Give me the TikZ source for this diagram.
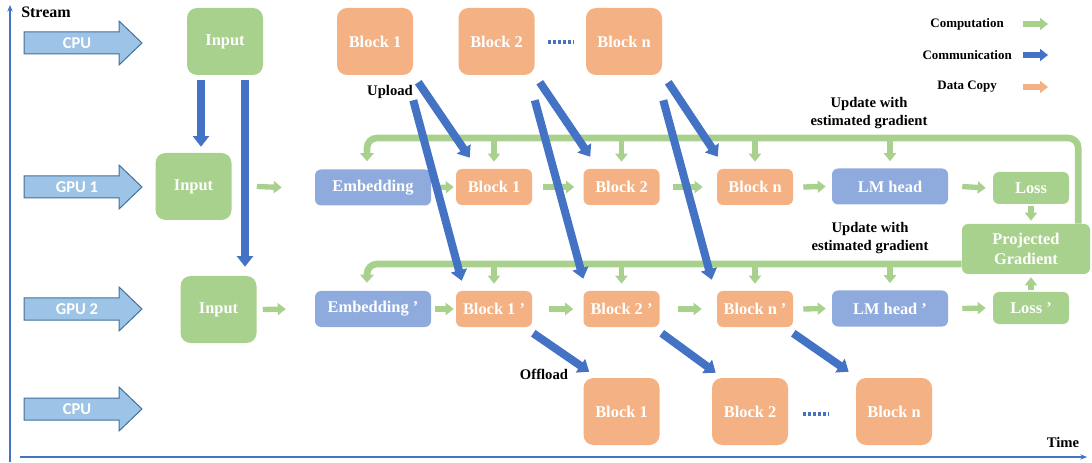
\documentclass[tikz,border=0pt]{standalone}
\usepackage{fontspec}
\setmainfont{Liberation Serif}
\newfontfamily\rowfont{Carlito}
\usetikzlibrary{arrows.meta}
\definecolor{cgreen}{HTML}{A9D18E}
\definecolor{cblue}{HTML}{4472C4}
\definecolor{corange}{HTML}{F4B183}
\definecolor{cmodel}{HTML}{8FAADC}
\definecolor{crow}{HTML}{9DC3E6}
\definecolor{crowline}{HTML}{41719C}
\begin{document}
\begin{tikzpicture}[x=0.75pt,y=-0.75pt,
  box/.style={rounded corners=4.5pt, inner sep=0pt, text=white, align=center,
    font=\fontsize{12.3}{15}\selectfont\bfseries},
  bigbox/.style={box, rounded corners=7.5pt, minimum width=57pt, minimum height=50.25pt},
  sbox/.style={box, minimum width=57pt, minimum height=27pt},
  wbox/.style={box, minimum width=87pt, minimum height=27pt, fill=cmodel},
  lossbox/.style={box, minimum width=57pt, minimum height=24pt, fill=cgreen},
  rowlbl/.style={text=white, inner sep=0pt, font=\rowfont\bfseries\fontsize{12.4}{14}\selectfont},
  lbl/.style={inner sep=0pt, font=\fontsize{11}{13.5}\selectfont\bfseries, align=center},
  leg/.style={inner sep=0pt, font=\fontsize{9.7}{12}\selectfont\bfseries},
  axis/.style={draw=cblue, line width=0.9pt, -{Stealth[length=5pt,width=4pt]}},
  comm/.style={draw=cblue, line width=6pt, -{Triangle[width=12pt,length=8pt]}},
  comp/.style={draw=cgreen, line width=4pt, -{Triangle[width=9pt,length=6pt]}},
  fline/.style={draw=cgreen, line width=5pt, rounded corners=7.5pt, -{Triangle[width=10pt,length=6pt]}},
  legcomm/.style={comp, draw=cblue},
  legcopy/.style={comp, draw=corange},
  dotline/.style={draw=cblue, line width=2.4pt, dash pattern=on 2.25pt off 1.5pt},
  rowarr/.pic={\draw[fill=crow, draw=crowline, line width=0.75pt]
    (0,-11) -- (95,-11) -- (95,-22) -- (118,0) -- (95,22) -- (95,11) -- (0,11) -- cycle;}
]
\useasboundingbox (0,0) rectangle (1092,463);

% axes
\coordinate (yaxb) at (10,462);
\coordinate (yaxt) at (10,5);
\coordinate (xaxl) at (20,457);
\coordinate (xaxr) at (1087,457);
\draw[axis] (yaxb) -- (yaxt);
\draw[axis] (xaxl) -- (xaxr);
\node[lbl, font=\fontsize{12}{14}\selectfont\bfseries] (stream) at (46,12) {Stream};
\node[lbl] (time) at (1063,442) {Time};

% row arrows
\pic at (24,43) {rowarr};
\pic at (24,187) {rowarr};
\pic at (24,309) {rowarr};
\pic at (24,409) {rowarr};
\node[rowlbl] (rcpu1) at (77,43) {CPU};
\node[rowlbl] (rgpu1) at (77,187) {GPU 1};
\node[rowlbl] (rgpu2) at (77,309) {GPU 2};
\node[rowlbl] (rcpu2) at (77,409) {CPU};

% top CPU row
\node[bigbox, fill=cgreen] (tin) at (225,41.5) {Input};
\node[bigbox, fill=corange] (tb1) at (375,41.5) {Block 1};
\node[bigbox, fill=corange] (tb2) at (496.5,41.5) {Block 2};
\node[bigbox, fill=corange] (tbn) at (624,41.5) {Block n};
\coordinate (tda) at (548,42);
\coordinate (tdb) at (574,42);
\draw[dotline] (tda) -- (tdb);

% GPU 1 row
\node[bigbox, fill=cgreen] (g1in) at (193.5,186.5) {Input};
\node[wbox] (emb) at (373,187.5) {Embedding};
\node[sbox, fill=corange] (b1) at (494,187) {Block 1};
\node[sbox, fill=corange] (b2) at (621.5,187) {Block 2};
\node[sbox, fill=corange] (bn) at (755,187) {Block n};
\node[wbox] (lm) at (890,186.5) {LM head};
\node[lossbox] (loss) at (1031,188) {Loss};
\node[box, fill=cgreen, minimum width=96pt, minimum height=37.5pt] (proj) at (1026,249) {Projected\\Gradient};

% GPU 2 row
\node[bigbox, fill=cgreen] (g2in) at (218.5,309.5) {Input};
\node[wbox] (embp) at (373,309) {Embedding '};
\node[sbox, fill=corange] (b1p) at (494,309) {Block 1 '};
\node[sbox, fill=corange] (b2p) at (621.5,309) {Block 2 '};
\node[sbox, fill=corange] (bnp) at (755,309) {Block n '};
\node[wbox] (lmp) at (890,308.5) {LM head '};
\node[lossbox] (lossp) at (1031,308) {Loss '};

% bottom CPU row
\node[bigbox, fill=corange] (ob1) at (621.5,411.5) {Block 1};
\node[bigbox, fill=corange] (ob2) at (750,411.5) {Block 2};
\node[bigbox, fill=corange] (obn) at (894,411.5) {Block n};
\coordinate (bda) at (803,414);
\coordinate (bdb) at (829,414);
\draw[dotline] (bda) -- (bdb);

% labels
\node[lbl] (upl) at (390,92) {Upload};
\node[lbl] (offl) at (544,374) {Offload};
\node[lbl] (upd1) at (869,113) {Update with\\estimated gradient};
\node[lbl] (upd2) at (870,238) {Update with\\estimated gradient};

% legend
\node[leg, anchor=east] (lcomp) at (1004,24) {Computation};
\node[leg, anchor=east] (lcomm) at (1012,55) {Communication};
\node[leg, anchor=east] (lcopy) at (997,87) {Data Copy};
\coordinate (la1) at (1023,24); \coordinate (la2) at (1048,24);
\coordinate (lb1) at (1023,55); \coordinate (lb2) at (1048,55);
\coordinate (lc1) at (1023,87); \coordinate (lc2) at (1048,87);
\draw[comp] (la1) -- (la2);
\draw[legcomm] (lb1) -- (lb2);
\draw[legcopy] (lc1) -- (lc2);

% computation arrows GPU 1
\draw[comp] ([shift={(25,0)}]g1in.east) -- ([shift={(-33,0)}]emb.west);
\draw[comp] ([shift={(4,0)}]emb.west -| emb.east) -- ([shift={(-2,0)}]b1.west);
\draw[comp] ([shift={(11,0)}]b1.east) -- ([shift={(-9,0)}]b2.west);
\draw[comp] ([shift={(13,0)}]b2.east) -- ([shift={(-14,0)}]bn.west);
\draw[comp] ([shift={(10,0)}]bn.east) -- ([shift={(-6,0)}]lm.west);
\draw[comp] ([shift={(14,0)}]lm.east) -- ([shift={(-7,0)}]loss.west);
\draw[comp] ([shift={(0,2)}]loss.south) -- ([shift={(5,-3)}]proj.north);

% computation arrows GPU 2
\draw[comp] ([shift={(6,0)}]g2in.east) -- ([shift={(-29,0)}]embp.west);
\draw[comp] ([shift={(4,0)}]embp.east) -- ([shift={(-2,0)}]b1p.west);
\draw[comp] ([shift={(17,0)}]b1p.east) -- ([shift={(-10,0)}]b2p.west);
\draw[comp] ([shift={(18,0)}]b2p.east) -- ([shift={(-15,0)}]bnp.west);
\draw[comp] ([shift={(10,0)}]bnp.east) -- ([shift={(-6,0)}]lmp.west);
\draw[comp] ([shift={(14,0)}]lmp.east) -- ([shift={(-7,0)}]lossp.west);
\draw[comp] ([shift={(0,-2)}]lossp.north) -- ([shift={(5,3)}]proj.south);

% feedback lines
\coordinate (fb1) at (0,138);
\coordinate (fbr) at ([shift={(-12,0)}]proj.north east);
\draw[fline] (fbr) -- (fbr |- fb1) -| ([shift={(-6,-8)}]emb.north);
\draw[comp] (b1.north |- fb1) -- ([shift={(0,-7)}]b1.north);
\draw[comp] (b2.north |- fb1) -- ([shift={(0,-7)}]b2.north);
\draw[comp] (bn.north |- fb1) -- ([shift={(0,-7)}]bn.north);
\draw[comp] (lm.north |- fb1) -- ([shift={(0,-7)}]lm.north);

\coordinate (fb2) at ([shift={(0,15)}]proj.west);
\draw[fline] (fb2) -| ([shift={(-6,-8)}]embp.north);
\draw[comp] (b1p.north |- fb2) -- ([shift={(0,-7)}]b1p.north);
\draw[comp] (b2p.north |- fb2) -- ([shift={(0,-7)}]b2p.north);
\draw[comp] (bnp.north |- fb2) -- ([shift={(0,-7)}]bnp.north);
\draw[comp] (lmp.north |- fb2) -- ([shift={(0,-7)}]lmp.north);

% communication: input
\draw[comm] ([shift={(-24,5)}]tin.south) -- ([shift={(7.5,-6)}]g1in.north);
\draw[comm] ([shift={(20,5)}]tin.south) -- ([shift={(26.5,-9)}]g2in.north);

% communication: upload
\draw[comm] ([shift={(5,7)}]tb1.south east) -- ([shift={(14,-11)}]b1.north west);
\draw[comm] ([shift={(0,25)}]tb1.south east) -- ([shift={(6,-10)}]b1p.north west);
\draw[comm] ([shift={(5,7)}]tb2.south east) -- ([shift={(7,-12)}]b2.north west);
\draw[comm] ([shift={(0,25)}]tb2.south east) -- ([shift={(0,-12)}]b2p.north west);
\draw[comm] ([shift={(6,7)}]tbn.south east) -- ([shift={(1,-12)}]bn.north west);
\draw[comm] ([shift={(1,25)}]tbn.south east) -- ([shift={(-5,-11)}]bnp.north west);

% communication: offload
\draw[comm] ([shift={(1,6)}]b1p.south east) -- ([shift={(6,-6)}]ob1.north west);
\draw[comm] ([shift={(2,6)}]b2p.south east) -- ([shift={(4,-5)}]ob2.north west);
\draw[comm] ([shift={(0,6)}]bnp.south east) -- ([shift={(-7,-6)}]obn.north west);
\end{tikzpicture}
\end{document}
